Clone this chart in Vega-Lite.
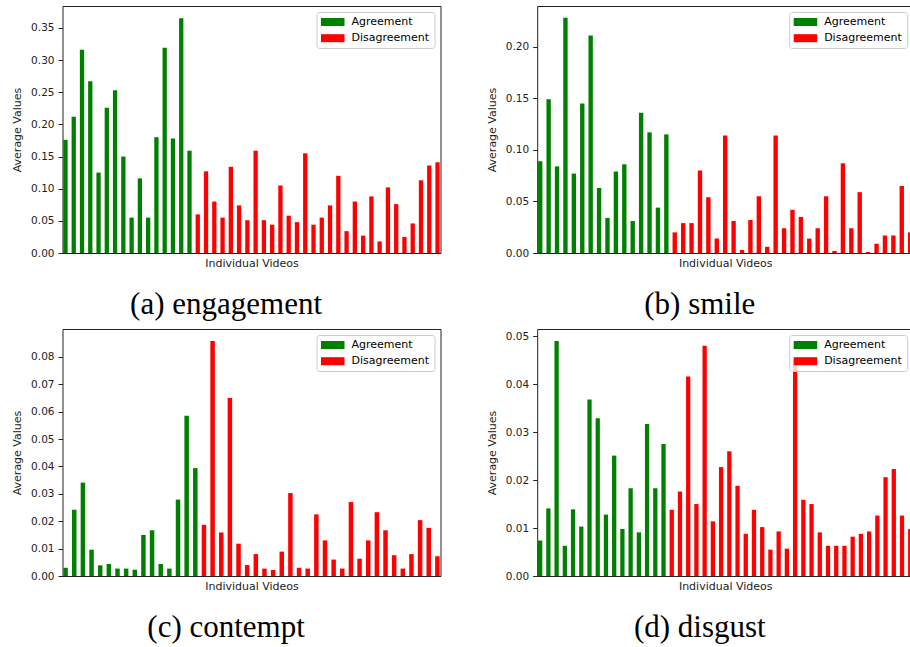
{
  "$schema": "https://vega.github.io/schema/vega-lite/v6.json",
  "padding": {"left": 10.5, "top": 5, "right": 0, "bottom": 0},
  "background": "white",
  "datasets": {
    "a": [
      {"v":1,"g":"Agreement","y":0.176},{"v":2,"g":"Agreement","y":0.212},{"v":3,"g":"Agreement","y":0.316},{"v":4,"g":"Agreement","y":0.267},
      {"v":5,"g":"Agreement","y":0.125},{"v":6,"g":"Agreement","y":0.226},{"v":7,"g":"Agreement","y":0.253},{"v":8,"g":"Agreement","y":0.150},
      {"v":9,"g":"Agreement","y":0.055},{"v":10,"g":"Agreement","y":0.116},{"v":11,"g":"Agreement","y":0.055},{"v":12,"g":"Agreement","y":0.180},
      {"v":13,"g":"Agreement","y":0.319},{"v":14,"g":"Agreement","y":0.178},{"v":15,"g":"Agreement","y":0.365},{"v":16,"g":"Agreement","y":0.159},
      {"v":17,"g":"Disagreement","y":0.060},{"v":18,"g":"Disagreement","y":0.127},{"v":19,"g":"Disagreement","y":0.080},{"v":20,"g":"Disagreement","y":0.055},
      {"v":21,"g":"Disagreement","y":0.134},{"v":22,"g":"Disagreement","y":0.074},{"v":23,"g":"Disagreement","y":0.051},{"v":24,"g":"Disagreement","y":0.159},
      {"v":25,"g":"Disagreement","y":0.051},{"v":26,"g":"Disagreement","y":0.044},{"v":27,"g":"Disagreement","y":0.105},{"v":28,"g":"Disagreement","y":0.058},
      {"v":29,"g":"Disagreement","y":0.048},{"v":30,"g":"Disagreement","y":0.155},{"v":31,"g":"Disagreement","y":0.044},{"v":32,"g":"Disagreement","y":0.055},
      {"v":33,"g":"Disagreement","y":0.074},{"v":34,"g":"Disagreement","y":0.120},{"v":35,"g":"Disagreement","y":0.034},{"v":36,"g":"Disagreement","y":0.080},
      {"v":37,"g":"Disagreement","y":0.027},{"v":38,"g":"Disagreement","y":0.088},{"v":39,"g":"Disagreement","y":0.018},{"v":40,"g":"Disagreement","y":0.102},
      {"v":41,"g":"Disagreement","y":0.076},{"v":42,"g":"Disagreement","y":0.025},{"v":43,"g":"Disagreement","y":0.046},{"v":44,"g":"Disagreement","y":0.113},
      {"v":45,"g":"Disagreement","y":0.136},{"v":46,"g":"Disagreement","y":0.141}
    ],
    "b": [
      {"v":1,"g":"Agreement","y":0.089},{"v":2,"g":"Agreement","y":0.149},{"v":3,"g":"Agreement","y":0.084},{"v":4,"g":"Agreement","y":0.228},
      {"v":5,"g":"Agreement","y":0.077},{"v":6,"g":"Agreement","y":0.145},{"v":7,"g":"Agreement","y":0.211},{"v":8,"g":"Agreement","y":0.063},
      {"v":9,"g":"Agreement","y":0.034},{"v":10,"g":"Agreement","y":0.079},{"v":11,"g":"Agreement","y":0.086},{"v":12,"g":"Agreement","y":0.031},
      {"v":13,"g":"Agreement","y":0.136},{"v":14,"g":"Agreement","y":0.117},{"v":15,"g":"Agreement","y":0.044},{"v":16,"g":"Agreement","y":0.115},
      {"v":17,"g":"Disagreement","y":0.020},{"v":18,"g":"Disagreement","y":0.029},{"v":19,"g":"Disagreement","y":0.029},{"v":20,"g":"Disagreement","y":0.080},
      {"v":21,"g":"Disagreement","y":0.054},{"v":22,"g":"Disagreement","y":0.014},{"v":23,"g":"Disagreement","y":0.114},{"v":24,"g":"Disagreement","y":0.031},
      {"v":25,"g":"Disagreement","y":0.003},{"v":26,"g":"Disagreement","y":0.032},{"v":27,"g":"Disagreement","y":0.055},{"v":28,"g":"Disagreement","y":0.006},
      {"v":29,"g":"Disagreement","y":0.114},{"v":30,"g":"Disagreement","y":0.024},{"v":31,"g":"Disagreement","y":0.042},{"v":32,"g":"Disagreement","y":0.035},
      {"v":33,"g":"Disagreement","y":0.014},{"v":34,"g":"Disagreement","y":0.024},{"v":35,"g":"Disagreement","y":0.055},{"v":36,"g":"Disagreement","y":0.002},
      {"v":37,"g":"Disagreement","y":0.087},{"v":38,"g":"Disagreement","y":0.024},{"v":39,"g":"Disagreement","y":0.059},{"v":40,"g":"Disagreement","y":0.001},
      {"v":41,"g":"Disagreement","y":0.009},{"v":42,"g":"Disagreement","y":0.017},{"v":43,"g":"Disagreement","y":0.017},{"v":44,"g":"Disagreement","y":0.065},
      {"v":45,"g":"Disagreement","y":0.020}
    ],
    "c": [
      {"v":1,"g":"Agreement","y":0.0030},{"v":2,"g":"Agreement","y":0.0242},{"v":3,"g":"Agreement","y":0.0341},{"v":4,"g":"Agreement","y":0.0096},
      {"v":5,"g":"Agreement","y":0.0039},{"v":6,"g":"Agreement","y":0.0044},{"v":7,"g":"Agreement","y":0.0027},{"v":8,"g":"Agreement","y":0.0027},
      {"v":9,"g":"Agreement","y":0.0023},{"v":10,"g":"Agreement","y":0.0150},{"v":11,"g":"Agreement","y":0.0167},{"v":12,"g":"Agreement","y":0.0044},
      {"v":13,"g":"Agreement","y":0.0027},{"v":14,"g":"Agreement","y":0.0279},{"v":15,"g":"Agreement","y":0.0585},{"v":16,"g":"Agreement","y":0.0394},
      {"v":17,"g":"Disagreement","y":0.0187},{"v":18,"g":"Disagreement","y":0.0858},{"v":19,"g":"Disagreement","y":0.0159},{"v":20,"g":"Disagreement","y":0.0650},
      {"v":21,"g":"Disagreement","y":0.0118},{"v":22,"g":"Disagreement","y":0.0040},{"v":23,"g":"Disagreement","y":0.0080},{"v":24,"g":"Disagreement","y":0.0027},
      {"v":25,"g":"Disagreement","y":0.0022},{"v":26,"g":"Disagreement","y":0.0089},{"v":27,"g":"Disagreement","y":0.0303},{"v":28,"g":"Disagreement","y":0.0030},
      {"v":29,"g":"Disagreement","y":0.0027},{"v":30,"g":"Disagreement","y":0.0225},{"v":31,"g":"Disagreement","y":0.0130},{"v":32,"g":"Disagreement","y":0.0060},
      {"v":33,"g":"Disagreement","y":0.0027},{"v":34,"g":"Disagreement","y":0.0270},{"v":35,"g":"Disagreement","y":0.0063},{"v":36,"g":"Disagreement","y":0.0130},
      {"v":37,"g":"Disagreement","y":0.0233},{"v":38,"g":"Disagreement","y":0.0167},{"v":39,"g":"Disagreement","y":0.0076},{"v":40,"g":"Disagreement","y":0.0027},
      {"v":41,"g":"Disagreement","y":0.0080},{"v":42,"g":"Disagreement","y":0.0204},{"v":43,"g":"Disagreement","y":0.0176},{"v":44,"g":"Disagreement","y":0.0072}
    ],
    "d": [
      {"v":1,"g":"Agreement","y":0.0074},{"v":2,"g":"Agreement","y":0.0141},{"v":3,"g":"Agreement","y":0.0490},{"v":4,"g":"Agreement","y":0.0063},
      {"v":5,"g":"Agreement","y":0.0139},{"v":6,"g":"Agreement","y":0.0103},{"v":7,"g":"Agreement","y":0.0368},{"v":8,"g":"Agreement","y":0.0329},
      {"v":9,"g":"Agreement","y":0.0128},{"v":10,"g":"Agreement","y":0.0251},{"v":11,"g":"Agreement","y":0.0098},{"v":12,"g":"Agreement","y":0.0183},
      {"v":13,"g":"Agreement","y":0.0091},{"v":14,"g":"Agreement","y":0.0317},{"v":15,"g":"Agreement","y":0.0183},{"v":16,"g":"Agreement","y":0.0275},
      {"v":17,"g":"Disagreement","y":0.0138},{"v":18,"g":"Disagreement","y":0.0176},{"v":19,"g":"Disagreement","y":0.0416},{"v":20,"g":"Disagreement","y":0.0150},
      {"v":21,"g":"Disagreement","y":0.0480},{"v":22,"g":"Disagreement","y":0.0114},{"v":23,"g":"Disagreement","y":0.0227},{"v":24,"g":"Disagreement","y":0.0260},
      {"v":25,"g":"Disagreement","y":0.0188},{"v":26,"g":"Disagreement","y":0.0088},{"v":27,"g":"Disagreement","y":0.0138},{"v":28,"g":"Disagreement","y":0.0102},
      {"v":29,"g":"Disagreement","y":0.0055},{"v":30,"g":"Disagreement","y":0.0093},{"v":31,"g":"Disagreement","y":0.0057},{"v":32,"g":"Disagreement","y":0.0450},
      {"v":33,"g":"Disagreement","y":0.0159},{"v":34,"g":"Disagreement","y":0.0150},{"v":35,"g":"Disagreement","y":0.0091},{"v":36,"g":"Disagreement","y":0.0063},
      {"v":37,"g":"Disagreement","y":0.0063},{"v":38,"g":"Disagreement","y":0.0063},{"v":39,"g":"Disagreement","y":0.0082},{"v":40,"g":"Disagreement","y":0.0088},
      {"v":41,"g":"Disagreement","y":0.0093},{"v":42,"g":"Disagreement","y":0.0126},{"v":43,"g":"Disagreement","y":0.0206},{"v":44,"g":"Disagreement","y":0.0223},
      {"v":45,"g":"Disagreement","y":0.0126},{"v":46,"g":"Disagreement","y":0.0098}
    ]
  },
  "columns": 2,
  "spacing": {"row": 7, "column": 43.7},
  "resolve": {"scale": {"x": "independent", "y": "independent", "color": "independent"}, "legend": {"color": "independent"}},
  "concat": [
    {
      "width": 378, "height": 247,
      "title": "(a) engagement",
      "data": {"name": "a"},
      "mark": {"type": "bar"},
      "encoding": {
        "x": {"field": "v", "type": "ordinal", "scale": {"paddingInner": 0.48, "paddingOuter": 0.1}, "axis": {"title": "Individual Videos", "labels": false, "ticks": false, "domain": false, "titlePadding": 4}},
        "y": {"field": "y", "type": "quantitative", "scale": {"domain": [0, 0.384], "nice": false}, "axis": {"title": "Average Values", "values": [0, 0.05, 0.1, 0.15, 0.2, 0.25, 0.3, 0.35], "format": ".2f"}},
        "color": {"field": "g", "type": "nominal", "scale": {"domain": ["Agreement", "Disagreement"], "range": ["#008000", "#ff0000"]}}
      }
    },
    {
      "width": 376, "height": 247,
      "title": "(b) smile",
      "data": {"name": "b"},
      "mark": {"type": "bar"},
      "encoding": {
        "x": {"field": "v", "type": "ordinal", "scale": {"paddingInner": 0.48, "paddingOuter": 0.1}, "axis": {"title": "Individual Videos", "labels": false, "ticks": false, "domain": false, "titlePadding": 4}},
        "y": {"field": "y", "type": "quantitative", "scale": {"domain": [0, 0.2395], "nice": false}, "axis": {"title": "Average Values", "values": [0, 0.05, 0.1, 0.15, 0.2], "format": ".2f"}},
        "color": {"field": "g", "type": "nominal", "scale": {"domain": ["Agreement", "Disagreement"], "range": ["#008000", "#ff0000"]}}
      }
    },
    {
      "width": 378, "height": 247,
      "title": "(c) contempt",
      "data": {"name": "c"},
      "mark": {"type": "bar"},
      "encoding": {
        "x": {"field": "v", "type": "ordinal", "scale": {"paddingInner": 0.48, "paddingOuter": 0.1}, "axis": {"title": "Individual Videos", "labels": false, "ticks": false, "domain": false, "titlePadding": 4}},
        "y": {"field": "y", "type": "quantitative", "scale": {"domain": [0, 0.0902], "nice": false}, "axis": {"title": "Average Values", "values": [0, 0.01, 0.02, 0.03, 0.04, 0.05, 0.06, 0.07, 0.08], "format": ".2f"}},
        "color": {"field": "g", "type": "nominal", "scale": {"domain": ["Agreement", "Disagreement"], "range": ["#008000", "#ff0000"]}}
      }
    },
    {
      "width": 376, "height": 247,
      "title": "(d) disgust",
      "data": {"name": "d"},
      "mark": {"type": "bar"},
      "encoding": {
        "x": {"field": "v", "type": "ordinal", "scale": {"paddingInner": 0.48, "paddingOuter": 0.1}, "axis": {"title": "Individual Videos", "labels": false, "ticks": false, "domain": false, "titlePadding": 4}},
        "y": {"field": "y", "type": "quantitative", "scale": {"domain": [0, 0.0515], "nice": false}, "axis": {"title": "Average Values", "values": [0, 0.01, 0.02, 0.03, 0.04, 0.05], "format": ".2f"}},
        "color": {"field": "g", "type": "nominal", "scale": {"domain": ["Agreement", "Disagreement"], "range": ["#008000", "#ff0000"]}}
      }
    }
  ],
  "config": {
    "font": "DejaVu Sans",
    "view": {"stroke": "#222222", "strokeWidth": 1},
    "axis": {
      "grid": false, "domain": false,
      "labelFont": "DejaVu Sans", "labelFontSize": 10.5, "labelColor": "#222222", "labelPadding": 4,
      "titleFont": "DejaVu Sans", "titleFontSize": 11, "titleFontWeight": "normal", "titleColor": "#222222",
      "tickColor": "#222222", "tickSize": 4.5, "tickWidth": 1, "titlePadding": 8
    },
    "legend": {
      "orient": "top-right", "offset": 6, "padding": 4.5, "title": null,
      "fillColor": "rgba(255,255,255,0.8)", "strokeColor": "#cccccc", "strokeWidth": 1, "cornerRadius": 3,
      "symbolType": "M-2.94,-1H2.94V1H-2.94Z", "symbolSize": 64, "symbolStrokeWidth": 0, "symbolOffset": 6.25, "symbolOpacity": 1,
      "labelOffset": 13.2, "labelFont": "DejaVu Sans", "labelFontSize": 11, "labelColor": "#000000", "rowPadding": 4.2
    },
    "title": {
      "font": "Liberation Serif", "fontSize": 31, "fontWeight": "normal", "color": "#000000",
      "orient": "bottom", "anchor": "middle", "frame": "bounds", "baseline": "alphabetic", "offset": 22
    }
  }
}
